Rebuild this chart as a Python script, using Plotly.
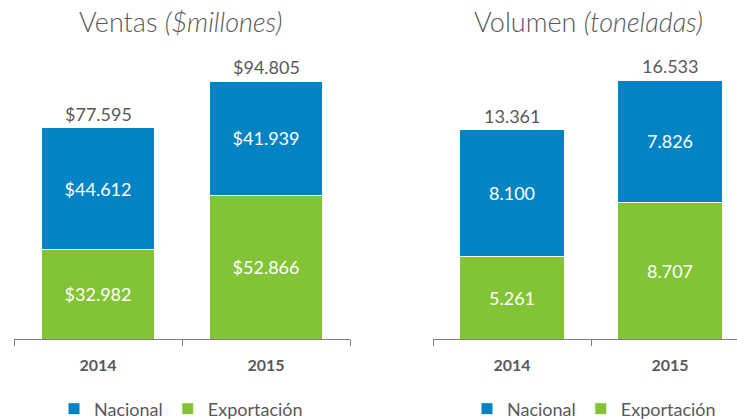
import plotly.graph_objects as go

years = ["2014", "2015"]
ventas_nacional = [44612, 41939]
ventas_export = [32982, 52866]
ventas_total = [77595, 94805]
vol_nacional = [8100, 7826]
vol_export = [5261, 8707]
vol_total = [13361, 16533]

BLUE = "#0284C4"
GREEN = "#83C437"
GRAY = "#595959"
FONT = "Lato, 'Open Sans', sans-serif"


def fmt(v, prefix=""):
    return prefix + f"{v:,}".replace(",", ".")


fig = go.Figure()


def add_pair(nac, exp, tot, prefix, xa, ya, leg):
    fig.add_trace(go.Bar(
        x=years, y=exp, name="Exportación", marker=dict(color=GREEN, line=dict(color="white", width=1)),
        text=[fmt(v, prefix) for v in exp], textposition="inside", insidetextanchor="middle",
        textfont=dict(color="white", size=18, family=FONT), xaxis=xa, yaxis=ya, legend=leg,
        legendrank=2, hoverinfo="skip"))
    fig.add_trace(go.Bar(
        x=years, y=nac, name="Nacional", marker=dict(color=BLUE, line=dict(color="white", width=1)),
        text=[fmt(v, prefix) for v in nac], textposition="inside", insidetextanchor="middle",
        textfont=dict(color="white", size=18, family=FONT), xaxis=xa, yaxis=ya, legend=leg,
        legendrank=1, hoverinfo="skip"))
    for i, t in enumerate(tot):
        fig.add_annotation(x=i, y=t, xref=xa, yref=ya, text=fmt(t, prefix),
                           showarrow=False, xanchor="center", yanchor="bottom", yshift=1,
                           font=dict(color=GRAY, size=18, family=FONT))


add_pair(ventas_nacional, ventas_export, ventas_total, "$", "x", "y", "legend")
add_pair(vol_nacional, vol_export, vol_total, "", "x2", "y2", "legend2")

y0, y1 = 1 - 339 / 419, 1 - 67 / 419
xcommon = dict(type="category", showline=True, linecolor="#7F7F7F", linewidth=1, ticks="outside",
               tickson="boundaries", ticklen=6, tickcolor="#7F7F7F", showgrid=False,
               ticklabelstandoff=12, automargin=False,
               tickfont=dict(color=GRAY, size=16, family=FONT, weight="bold"))
legcommon = dict(orientation="h", xanchor="center", y=1 - 409 / 419, yanchor="middle",
                 font=dict(color=GRAY, size=18, family=FONT), traceorder="normal",
                 bgcolor="rgba(0,0,0,0)")
fig.update_layout(
    width=737, height=419, barmode="stack", bargap=0.33,
    paper_bgcolor="white", plot_bgcolor="white",
    margin=dict(l=0, r=0, t=0, b=0, autoexpand=False),
    xaxis=dict(domain=[14 / 737, 350 / 737], range=[-0.5, 1.5], anchor="y", **xcommon),
    yaxis=dict(domain=[y0, y1], range=[0, 100000], visible=False, anchor="x", automargin=False),
    xaxis2=dict(domain=[433 / 737, 1.0], range=[-0.5, 1.424], anchor="y2", **xcommon),
    yaxis2=dict(domain=[y0, y1], range=[0, 17380], visible=False, anchor="x2", automargin=False),
    legend=dict(x=181 / 737, **legcommon),
    legend2=dict(x=594 / 737, **legcommon),
    showlegend=True,
)
fig.add_annotation(x=180 / 737, y=1 - 22 / 419, xref="paper", yref="paper", showarrow=False,
                   xanchor="center", yanchor="middle",
                   text="Ventas <i>($millones)</i>", font=dict(color=GRAY, size=27, family=FONT, weight=300))
fig.add_annotation(x=588 / 737, y=1 - 22 / 419, xref="paper", yref="paper", showarrow=False,
                   xanchor="center", yanchor="middle",
                   text="Volumen <i>(toneladas)</i>", font=dict(color=GRAY, size=27, family=FONT, weight=300))

fig.write_html("out.html", config={"displayModeBar": False},
               post_script="document.body.style.margin='0';")
